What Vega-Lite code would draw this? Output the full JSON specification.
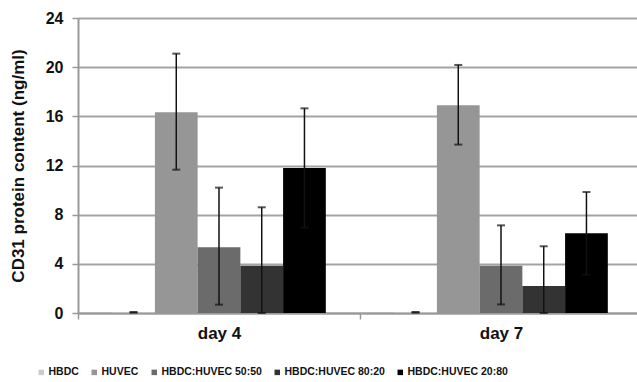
{
  "$schema": "https://vega.github.io/schema/vega-lite/v6.json",
  "width": 559,
  "height": 295,
  "autosize": {"type": "none"},
  "padding": {"left": 78, "top": 18, "right": 0, "bottom": 69},
  "background": "white",
  "config": {"font": "Liberation Sans", "view": {"stroke": null}},
  "data": {
    "values": [
      {"day": "day 4", "group": "HBDC", "value": 0.05, "lo": 0.03, "hi": 0.08},
      {"day": "day 4", "group": "HUVEC", "value": 16.33, "lo": 11.66, "hi": 21.1},
      {"day": "day 4", "group": "HBDC:HUVEC 50:50", "value": 5.34, "lo": 0.68, "hi": 10.2},
      {"day": "day 4", "group": "HBDC:HUVEC 80:20", "value": 3.85, "lo": 0, "hi": 8.6},
      {"day": "day 4", "group": "HBDC:HUVEC 20:80", "value": 11.8, "lo": 6.95, "hi": 16.65},
      {"day": "day 7", "group": "HBDC", "value": 0.05, "lo": 0.03, "hi": 0.08},
      {"day": "day 7", "group": "HUVEC", "value": 16.9, "lo": 13.7, "hi": 20.18},
      {"day": "day 7", "group": "HBDC:HUVEC 50:50", "value": 3.85, "lo": 0.7, "hi": 7.13},
      {"day": "day 7", "group": "HBDC:HUVEC 80:20", "value": 2.2, "lo": 0, "hi": 5.43},
      {"day": "day 7", "group": "HBDC:HUVEC 20:80", "value": 6.48, "lo": 3.12, "hi": 9.84}
    ]
  },
  "encoding": {
    "x": {
      "field": "day",
      "type": "nominal",
      "scale": {"range": [0, 564], "paddingInner": 0, "paddingOuter": 0},
      "axis": {
        "title": null,
        "grid": false,
        "labelAngle": 0,
        "labelFontSize": 17,
        "labelFontWeight": "bold",
        "labelColor": "#111",
        "labelPadding": 6,
        "tickBand": "extent",
        "tickSize": 6,
        "tickColor": "#999",
        "tickWidth": 1.5,
        "domainColor": "#999",
        "domainWidth": 2
      }
    },
    "xOffset": {
      "field": "group",
      "type": "nominal",
      "sort": ["HBDC", "HUVEC", "HBDC:HUVEC 50:50", "HBDC:HUVEC 80:20", "HBDC:HUVEC 20:80"],
      "scale": {"paddingInner": 0, "paddingOuter": 0.8}
    }
  },
  "layer": [
    {
      "mark": {"type": "bar"},
      "encoding": {
        "y": {
          "field": "value",
          "type": "quantitative",
          "scale": {"domain": [0, 24], "nice": false},
          "axis": {
            "values": [0, 4, 8, 12, 16, 20, 24],
            "title": "CD31  protein content (ng/ml)",
            "titleFontSize": 17,
            "titleFontWeight": "bold",
            "titleColor": "#111",
            "titlePadding": 18,
            "labelFontSize": 16,
            "labelFontWeight": "bold",
            "labelColor": "#111",
            "labelPadding": 9,
            "tickSize": 6,
            "tickColor": "#999",
            "tickWidth": 1.5,
            "domainColor": "#999",
            "domainWidth": 2,
            "grid": true,
            "gridColor": "#a3a3a3",
            "gridWidth": 2
          }
        },
        "color": {
          "field": "group",
          "type": "nominal",
          "sort": ["HBDC", "HUVEC", "HBDC:HUVEC 50:50", "HBDC:HUVEC 80:20", "HBDC:HUVEC 20:80"],
          "scale": {"range": ["#cccccc", "#969696", "#6b6b6b", "#333333", "#000000"]},
          "legend": {
            "title": null,
            "orient": "none",
            "legendX": -42,
            "legendY": 349,
            "direction": "horizontal",
            "symbolType": "square",
            "symbolSize": 30,
            "symbolStrokeWidth": 0,
            "labelFontSize": 10.5,
            "labelFontWeight": "bold",
            "labelColor": "#111",
            "labelOffset": 2,
            "columnPadding": 10
          }
        }
      }
    },
    {
      "mark": {"type": "rule", "color": "#111", "strokeWidth": 1.5},
      "encoding": {
        "y": {"field": "lo", "type": "quantitative"},
        "y2": {"field": "hi"}
      }
    },
    {
      "mark": {"type": "tick", "color": "#111", "thickness": 2, "size": 8},
      "encoding": {"y": {"field": "lo", "type": "quantitative"}}
    },
    {
      "mark": {"type": "tick", "color": "#111", "thickness": 2, "size": 8},
      "encoding": {"y": {"field": "hi", "type": "quantitative"}}
    }
  ]
}
